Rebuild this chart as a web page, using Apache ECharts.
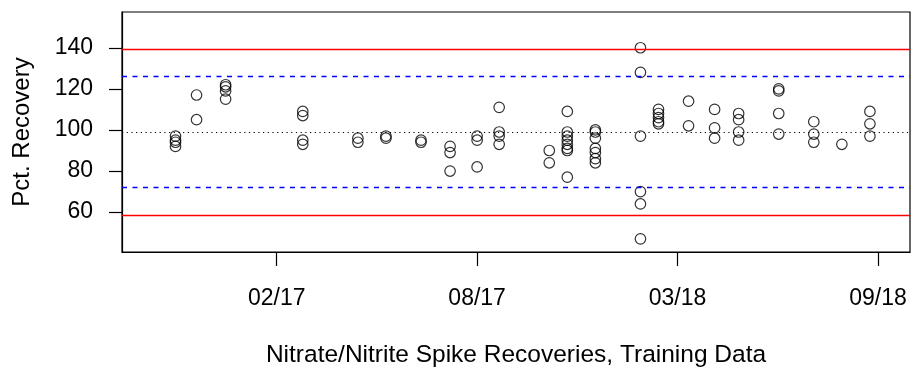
<!DOCTYPE html>
<html>
<head>
<meta charset="utf-8">
<title>Nitrate/Nitrite Spike Recoveries</title>
<script src="https://cdn.jsdelivr.net/npm/echarts@6/dist/echarts.min.js"></script>
<style>
  html, body { margin: 0; padding: 0; background: #ffffff; }
  #chart { width: 911px; height: 373px; }
</style>
</head>
<body>
<div id="chart"></div>
<script>
// Analysis run dates and the spike recoveries (%) measured on each run
const runDates = [
  '2016-10-25', '2016-11-15', '2016-12-14', '2017-03-01', '2017-04-25',
  '2017-05-23', '2017-06-27', '2017-07-26', '2017-08-22', '2017-09-13',
  '2017-11-02', '2017-11-20', '2017-12-18', '2018-02-01', '2018-02-19',
  '2018-03-21', '2018-04-16', '2018-05-10', '2018-06-19', '2018-07-24',
  '2018-08-21', '2018-09-18'
];
const runRecoveries = [
  [97, 95, 94, 92],
  [117, 105],
  [122, 121, 119, 115],
  [109, 107, 95, 93],
  [96, 94],
  [97, 96],
  [95, 94],
  [92, 89, 80],
  [97, 95, 82],
  [111, 99, 97, 93],
  [90, 84],
  [109, 99, 97, 95, 93, 91, 90, 77],
  [100, 99, 96, 91, 89, 86, 84],
  [140, 128, 97, 70, 64, 47],
  [110, 108, 106, 104, 103],
  [114, 102],
  [110, 101, 96],
  [108, 105, 99, 95],
  [120, 119, 108, 98],
  [104, 98, 94],
  [93],
  [109, 103, 97]
];

// Control chart limits (%)
const centerLine = 98.9;
const warningLimits = [71.9, 125.9];
const controlLimits = [58.4, 139.4];

// Axis ticks
const yTicks = [60, 80, 100, 120, 140];
const xTickDates = ['2017-02-03', '2017-08-22', '2018-03-10', '2018-09-26'];
const xTickLabels = ['02/17', '08/17', '03/18', '09/18'];

const DAY = 86400000;
function toDay(s) {
  const p = s.split('-').map(Number);
  return Date.UTC(p[0], p[1] - 1, p[2]) / DAY;
}

const points = [];
runDates.forEach(function (d, i) {
  const day = toDay(d);
  runRecoveries[i].forEach(function (v) { points.push([day, v]); });
});
const xTickDays = xTickDates.map(toDay);

const font = 'Liberation Sans, Arial, Helvetica, sans-serif';

function hLine(value, color, type, width) {
  return {
    yAxis: value,
    lineStyle: { color: color, type: type, width: width }
  };
}

const chart = echarts.init(document.getElementById('chart'), null, { renderer: 'canvas' });
chart.setOption({
  animation: false,
  backgroundColor: '#ffffff',
  grid: {
    left: 122, right: 1, top: 12, bottom: 117.5,
    show: true, borderColor: '#000000', borderWidth: 1.2,
    backgroundColor: 'transparent'
  },
  xAxis: {
    type: 'value',
    min: 17045.6,
    max: 17832,
    name: 'Nitrate/Nitrite Spike Recoveries, Training Data',
    nameLocation: 'middle',
    nameGap: 91,
    nameTextStyle: { fontFamily: font, fontSize: 24.5, color: '#000000' },
    axisLine: { show: true, onZero: false, lineStyle: { color: '#000000', width: 1.2 } },
    axisTick: {
      show: true, length: 14, customValues: xTickDays,
      lineStyle: { color: '#000000', width: 1.2 }
    },
    axisLabel: {
      customValues: xTickDays,
      margin: 35,
      fontFamily: font, fontSize: 23, color: '#000000',
      formatter: function (v) {
        const k = xTickDays.findIndex(function (t) { return Math.abs(t - v) < 0.5; });
        return k >= 0 ? xTickLabels[k] : '';
      }
    },
    splitLine: { show: false }
  },
  yAxis: {
    type: 'value',
    min: 40.6,
    max: 157.4,
    name: 'Pct. Recovery',
    nameLocation: 'middle',
    nameGap: 88,
    nameTextStyle: { fontFamily: font, fontSize: 24, color: '#000000' },
    axisLine: { show: true, onZero: false, lineStyle: { color: '#000000', width: 1.2 } },
    axisTick: {
      show: true, length: 13, customValues: yTicks,
      lineStyle: { color: '#000000', width: 1.2 }
    },
    axisLabel: {
      customValues: yTicks,
      margin: 29,
      fontFamily: font, fontSize: 23, color: '#000000'
    },
    splitLine: { show: false }
  },
  series: [{
    type: 'scatter',
    data: points,
    symbol: 'circle',
    symbolSize: 10.5,
    itemStyle: { color: 'rgba(0,0,0,0)', borderColor: '#000000', borderWidth: 1.2 },
    emphasis: { disabled: true },
    markLine: {
      silent: true,
      symbol: ['none', 'none'],
      label: { show: false },
      data: [
        hLine(controlLimits[1], '#ff0000', 'solid', 1.3),
        hLine(controlLimits[0], '#ff0000', 'solid', 1.3),
        hLine(warningLimits[1], '#0000ff', [5, 5.5], 1.3),
        hLine(warningLimits[0], '#0000ff', [5, 5.5], 1.3),
        hLine(centerLine, '#000000', [1.2, 3.5], 1.2)
      ]
    }
  }]
});
</script>
</body>
</html>
